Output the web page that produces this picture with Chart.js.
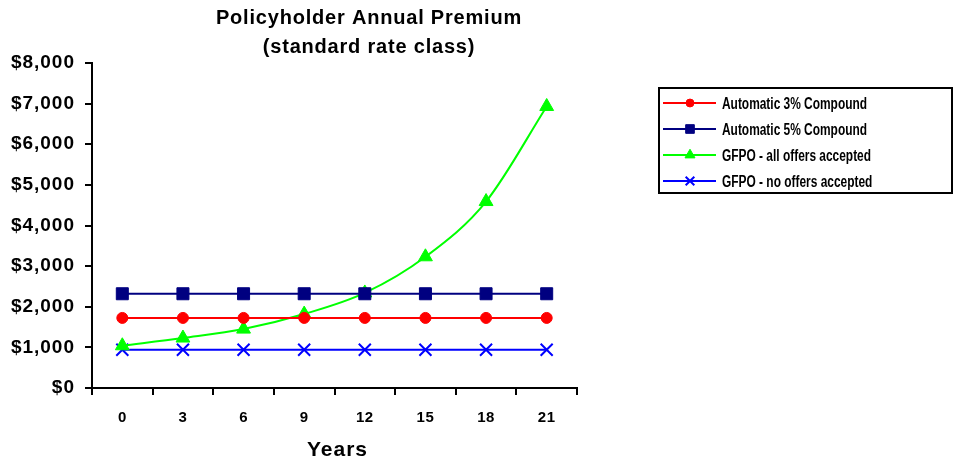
<!DOCTYPE html>
<html><head><meta charset="utf-8">
<script src="https://cdn.jsdelivr.net/npm/chart.js@4/dist/chart.umd.min.js"></script>
<style>html,body{margin:0;padding:0;background:#fff}#wrap{width:962px;height:460px;position:relative}</style>
</head><body><div id="wrap"><canvas id="c" width="962" height="460"></canvas></div>
<script>
const years = ['0','3','6','9','12','15','18','21'];
const auto3 = [1725,1725,1725,1725,1725,1725,1725,1725];
const auto5 = [2320,2320,2320,2320,2320,2320,2320,2320];
const gfpoAll = [1040,1230,1450,1820,2340,3230,4590,6930];
const gfpoNone = [940,940,940,940,940,940,940,940];
const seriesNames = ['Automatic 3% Compound','Automatic 5% Compound','GFPO - all offers accepted','GFPO - no offers accepted'];
const titleLines = ['Policyholder Annual Premium','(standard rate class)'];
const xTitle = 'Years';
const yTicks = [0,1000,2000,3000,4000,5000,6000,7000,8000];

const F = 'Arial, "Liberation Sans", sans-serif';

function spaced(s, sp){
  const proto = Object.getPrototypeOf(s);
  s.drawLabels = function(ca){
    const ctx = this.ctx; const old = ctx.letterSpacing;
    ctx.letterSpacing = sp;
    proto.drawLabels.call(this, ca);
    ctx.letterSpacing = old || '0px';
  };
}

const titlePlugin = {
  id:'customTitle',
  afterDraw(chart){
    const ctx = chart.ctx;
    ctx.save();
    ctx.fillStyle='#000';
    ctx.letterSpacing='0.8px';
    ctx.font = 'bold 20px ' + F;
    ctx.textAlign='center'; ctx.textBaseline='middle';
    ctx.fillText(titleLines[0], 369, 18);
    ctx.fillText(titleLines[1], 369, 47);
    ctx.letterSpacing='1px';
    ctx.font = 'bold 21px ' + F;
    const xa = chart.chartArea;
    ctx.fillText(xTitle, (xa.left+xa.right)/2 + 3, 450);
    ctx.restore();
  }
};

const legendPlugin = {
  id:'customLegend',
  afterDraw(chart){
    const ctx = chart.ctx;
    const x0=659, y0=88, w=293, h=105;
    ctx.save();
    ctx.letterSpacing='0px';
    ctx.strokeStyle='#000'; ctx.lineWidth=2;
    ctx.strokeRect(x0, y0, w, h);
    const lf = 'bold 16px ' + F;
    ctx.font = lf;
    const sx = 145 / ctx.measureText(chart.data.datasets[0].label).width;
    chart.data.datasets.forEach((ds,i)=>{
      const y = 103 + i*26;
      ctx.strokeStyle = ds.borderColor; ctx.lineWidth=2;
      ctx.beginPath(); ctx.moveTo(663,y); ctx.lineTo(716,y); ctx.stroke();
      ctx.fillStyle = ds.pointBackgroundColor; ctx.strokeStyle = ds.pointBorderColor;
      ctx.lineWidth = ds.pointBorderWidth;
      Chart.helpers.drawPoint(ctx, {pointStyle: ds.pointStyle, rotation:0, radius: ds.pointRadius*0.72, borderWidth: ds.pointBorderWidth}, 690, y);
      ctx.save();
      ctx.fillStyle='#000';
      ctx.font = lf;
      ctx.textAlign='left'; ctx.textBaseline='middle';
      ctx.translate(722, y+1.5); ctx.scale(sx,1);
      ctx.fillText(ds.label, 0, 0);
      ctx.restore();
    });
    ctx.restore();
  }
};

function mk(label, data, color, style, radius, extra){
  return Object.assign({label, data, borderColor:color, backgroundColor:color,
    pointBackgroundColor:color, pointBorderColor:color, pointStyle:style,
    pointRadius:radius, pointHoverRadius:radius, borderWidth:2, pointBorderWidth:1, tension:0}, extra||{});
}

new Chart(document.getElementById('c'), {
  type:'line',
  data:{labels:years, datasets:[
    mk(seriesNames[0], auto3, '#FF0000', 'circle', 5.5),
    mk(seriesNames[1], auto5, '#000080', 'rect', 8.5),
    mk(seriesNames[2], gfpoAll, '#00FF00', 'triangle', 8, {cubicInterpolationMode:'monotone'}),
    mk(seriesNames[3], gfpoNone, '#0000FF', 'crossRot', 8.5, {pointBorderWidth:2}),
  ]},
  options:{
    responsive:false, animation:false,
    layout:{padding:{left:0, right:385, top:63, bottom:0}},
    plugins:{legend:{display:false}, title:{display:false}, tooltip:{enabled:false}},
    scales:{
      x:{
        offset:true,
        grid:{offset:true, drawOnChartArea:false, drawTicks:true, tickLength:7, color:'#000', lineWidth:2},
        border:{display:true, color:'#000', width:2},
        ticks:{color:'#000', font:{family:F, weight:'bold', size:15}, padding:14, maxRotation:0},
        afterFit(s){ s.height = 72; spaced(s, '0.5px'); }
      },
      y:{
        min:0, max:8000,
        afterBuildTicks(s){ s.ticks = yTicks.map(v=>({value:v})); },
        grid:{drawOnChartArea:false, drawTicks:true, tickLength:7, color:'#000', lineWidth:2},
        border:{display:true, color:'#000', width:2},
        ticks:{color:'#000', font:{family:F, weight:'bold', size:19}, padding:10,
          callback:(v)=>'$'+Number(v).toLocaleString('en-US')},
        afterFit(s){ s.width = 92; spaced(s, '1px'); }
      }
    }
  },
  plugins:[titlePlugin, legendPlugin]
});
</script></body></html>
